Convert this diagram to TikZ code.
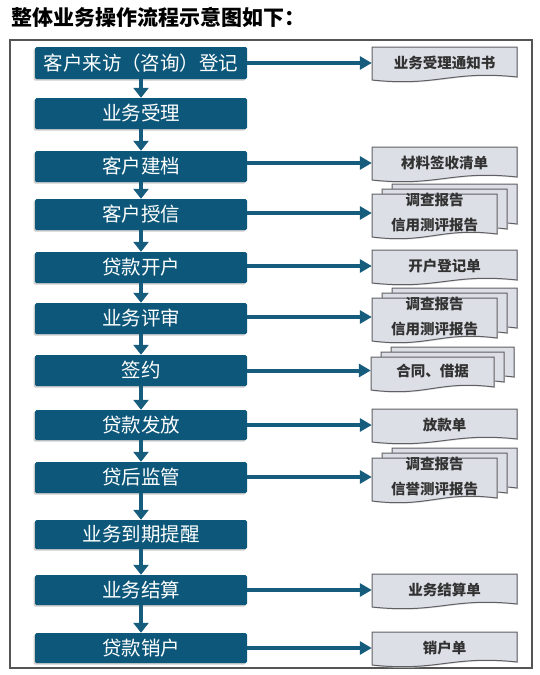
\documentclass[tikz,border=0pt]{standalone}
\usepackage{fontspec}
\setmainfont{Noto Sans CJK SC}
\usetikzlibrary{arrows.meta,calc}
\definecolor{boxblue}{RGB}{13,88,122}
\definecolor{arrblue}{RGB}{22,92,125}
\definecolor{docfill}{RGB}{221,223,230}
\definecolor{docline}{RGB}{95,95,100}
\definecolor{doctext}{RGB}{50,50,50}
\definecolor{framegray}{RGB}{85,85,85}
\tikzset{
  stepbox/.style={fill=boxblue, text=white, minimum width=212pt, inner sep=0pt,
    font=\fontsize{19.5}{20}\selectfont, rounded corners=1.5pt,
    preaction={fill=black!20, transform canvas={shift={(-1.5pt,-1.5pt)}}}},
  docpagestyle/.style={fill=docfill, draw=docline, line width=1pt,
    preaction={fill=black!12, transform canvas={shift={(1pt,-1pt)}}}},
  doclabel/.style={text=doctext, inner sep=0pt, align=center,
    font=\bfseries\fontsize{14.5}{25}\selectfont},
  varrow/.style={draw=arrblue, line width=4.5pt, -{Triangle[width=15pt,length=10pt]}},
  harrow/.style={draw=arrblue, line width=4pt, -{Triangle[width=13pt,length=12pt]}},
  framestyle/.style={draw=framegray, line width=1.2pt},
}
\newcommand\docpage[4]{%
  \path[docpagestyle] (#1,#2) -- ({#1+#3},#2) -- ({#1+#3},{#2+#4})
    .. controls ({#1+0.55*#3},{#2+#4-7}) and ({#1+0.45*#3},{#2+#4+10}) .. (#1,{#2+#4+3}) -- cycle;
}
\newcommand\singledoc[3]{% name, arrow y, text
  \docpage{372}{#2-17}{145}{30}
  \node[doclabel, minimum width=145pt] (#1) at (444.5,{#2-1}) {#3};
}
\newcommand\stackdoc[3]{% name, arrow y, text
  \docpage{392}{#2-28}{125}{40}
  \docpage{382}{#2-23}{125}{40}
  \docpage{372}{#2-18}{125}{40}
  \node[doclabel, minimum width=125pt] (#1) at (434.5,{#2+1}) {#3};
}
\begin{document}
\begin{tikzpicture}[x=1pt,y=-1pt]
\useasboundingbox (0,0) rectangle (540,675);
\node[anchor=west, inner sep=0pt, font=\bfseries\fontsize{21}{21}\selectfont] (title) at (11,17) {整体业务操作流程示意图如下：};
\draw[framestyle] (10,40) rectangle (532,668);

\node[stepbox, minimum height=32pt] (s1) at (141,63) {客户来访（咨询）登记};
\node[stepbox, minimum height=31pt] (s2) at (141,113.5) {业务受理};
\node[stepbox, minimum height=31pt] (s3) at (141,166.5) {客户建档};
\node[stepbox, minimum height=31pt] (s4) at (141,214.5) {客户授信};
\node[stepbox, minimum height=31pt] (s5) at (141,267.5) {贷款开户};
\node[stepbox, minimum height=31pt] (s6) at (141,318.5) {业务评审};
\node[stepbox, minimum height=31pt] (s7) at (141,370.5) {签约};
\node[stepbox, minimum height=30pt] (s8) at (141,425) {贷款发放};
\node[stepbox, minimum height=31pt] (s9) at (141,477.5) {贷后监管};
\node[stepbox, minimum height=29pt] (s10) at (141,534.5) {业务到期提醒};
\node[stepbox, minimum height=30pt] (s11) at (141,590) {业务结算};
\node[stepbox, minimum height=30pt] (s12) at (141,648) {贷款销户};

\singledoc{d1}{64}{业务受理通知书}
\singledoc{d3}{164}{材料签收清单}
\stackdoc{d4}{212}{调查报告\\信用测评报告}
\singledoc{d5}{267}{开户登记单}
\stackdoc{d6}{316}{调查报告\\信用测评报告}
\docpage{391}{347}{123}{30}
\docpage{381}{352}{123}{30}
\docpage{371}{357}{123}{30}
\node[doclabel, minimum width=123pt] (d7) at (432.5,370.5) {合同、借据};
\singledoc{d8}{426}{放款单}
\stackdoc{d9}{476}{调查报告\\信誉测评报告}
\singledoc{d11}{591}{业务结算单}
\singledoc{d12}{649}{销户单}

\foreach \a/\b in {s1/s2,s2/s3,s3/s4,s4/s5,s5/s6,s6/s7,s7/s8,s8/s9,s9/s10,s10/s11,s11/s12}
  \draw[varrow] (\a.south) -- (\b.north);

\foreach \a/\b in {s1/d1,s3/d3,s4/d4,s5/d5,s6/d6,s7/d7,s8/d8,s9/d9,s11/d11,s12/d12}
  \draw[harrow] (\a.east |- \b.west) -- (\b.west);
\end{tikzpicture}
\end{document}
